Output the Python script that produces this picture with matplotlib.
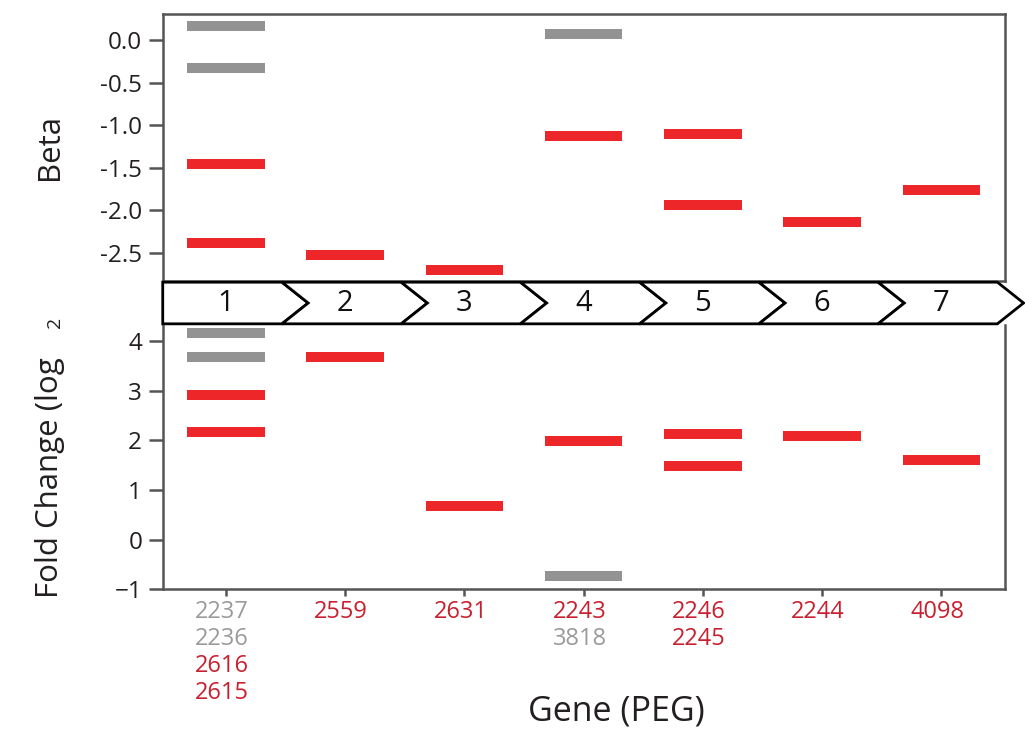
import matplotlib.pyplot as plt
from matplotlib.patches import Polygon

# genes in order of the label stacks under each position
genes = ['2237', '2236', '2616', '2615', '2559', '2631', '2243', '3818',
         '2246', '2245', '2244', '4098']
gene_pos = [1, 1, 1, 1, 2, 3, 4, 4, 5, 5, 6, 7]
gene_sig = [False, False, True, True, True, True, True, False,
            True, True, True, True]
beta = [0.165, -0.33, -1.46, -2.39, -2.52, -2.70, -1.13, 0.074,
        -1.11, -1.94, -2.14, -1.76]
fold_change = [4.16, 3.68, 2.91, 2.16, 3.68, 0.67, 1.98, -0.73,
               2.12, 1.48, 2.08, 1.60]
positions = [1, 2, 3, 4, 5, 6, 7]

beta_ticks = [0.0, -0.5, -1.0, -1.5, -2.0, -2.5]
fc_ticks = [4, 3, 2, 1, 0, -1]

RED = '#ed2629'
GREY = '#939393'
LBL_RED = '#c8202f'
LBL_GREY = '#9a9a9a'
SPINE = '#555555'
INK = '#231f20'
FONT = ['Open Sans', 'DejaVu Sans']

plt.rcParams['font.family'] = FONT
plt.rcParams['text.color'] = INK

fig = plt.figure(figsize=(10.25, 7.31), dpi=100)
xlim = (0.472, 7.53)
bar_w = 0.65

ax_top = fig.add_axes([0.159, 0.616, 0.821, 0.365])
ax_bot = fig.add_axes([0.159, 0.194, 0.821, 0.361])
ax_ban = fig.add_axes([0.159, 0.557, 0.821, 0.057])

colors = [RED if s else GREY for s in gene_sig]
ax_top.hlines(beta, [p - bar_w / 2 for p in gene_pos],
              [p + bar_w / 2 for p in gene_pos], colors=colors, lw=7.2)
ax_bot.hlines(fold_change, [p - bar_w / 2 for p in gene_pos],
              [p + bar_w / 2 for p in gene_pos], colors=colors, lw=7.2)

ax_top.set_xlim(*xlim)
ax_top.set_ylim(-2.827, 0.306)
ax_top.set_yticks(beta_ticks)
ax_top.set_yticklabels([f'{t:.1f}' for t in beta_ticks])
ax_top.set_xticks([])

ax_bot.set_xlim(*xlim)
ax_bot.set_ylim(-1, 4.32)
ax_bot.set_yticks(fc_ticks)
ax_bot.set_xticks(positions)
ax_bot.set_xticklabels([])

for ax in (ax_top, ax_bot):
    for s in ax.spines.values():
        s.set_color(SPINE)
        s.set_linewidth(1.8)
    ax.tick_params(axis='y', length=10, width=1.8, color=SPINE,
                   labelsize=17.5, pad=5, labelcolor=INK)
    ax.tick_params(axis='x', length=5, width=1.8, color=SPINE)
ax_bot.spines['top'].set_visible(False)

# chevron banner
ax_ban.set_xlim(*xlim)
ax_ban.set_ylim(0, 1)
ax_ban.axis('off')
d = 0.22
for p in positions:
    L, R = p - 0.53, p + 0.47
    if p == 1:
        pts = [(L, 0), (R, 0), (R + d, 0.5), (R, 1), (L, 1)]
    else:
        pts = [(L, 0), (R, 0), (R + d, 0.5), (R, 1), (L, 1), (L + d, 0.5)]
    ax_ban.add_patch(Polygon(pts, closed=True, facecolor='white',
                             edgecolor='black', lw=2.0, clip_on=False,
                             joinstyle='miter'))
    ax_ban.text(p, 0.48, str(p), ha='center', va='center', fontsize=21,
                color='#111111')

# gene labels stacked under each tick
row = {}
for g, p, s in zip(genes, gene_pos, gene_sig):
    k = row.get(p, 0)
    row[p] = k + 1
    ax_bot.annotate(g, xy=(p, 0), xycoords=ax_bot.get_xaxis_transform(),
                    xytext=(-4, -23 - 27 * k), textcoords='offset pixels',
                    ha='center', va='center', fontsize=17,
                    color=LBL_RED if s else LBL_GREY)

fig.text(50 / 1025, 1 - 147 / 731, 'Beta', rotation=90, ha='center',
         va='center', fontsize=22.5)
fig.text(50 / 1025, 1 - 478 / 731, 'Fold Change (log', rotation=90,
         ha='center', va='center', fontsize=22.5)
fig.text(55 / 1025, 1 - 322 / 731, '2', rotation=90, ha='center',
         va='center', fontsize=14)
fig.text(616 / 1025, 1 - 712 / 731, 'Gene (PEG)', ha='center', va='center',
         fontsize=24.5)

fig.savefig('out.png', dpi=100)
